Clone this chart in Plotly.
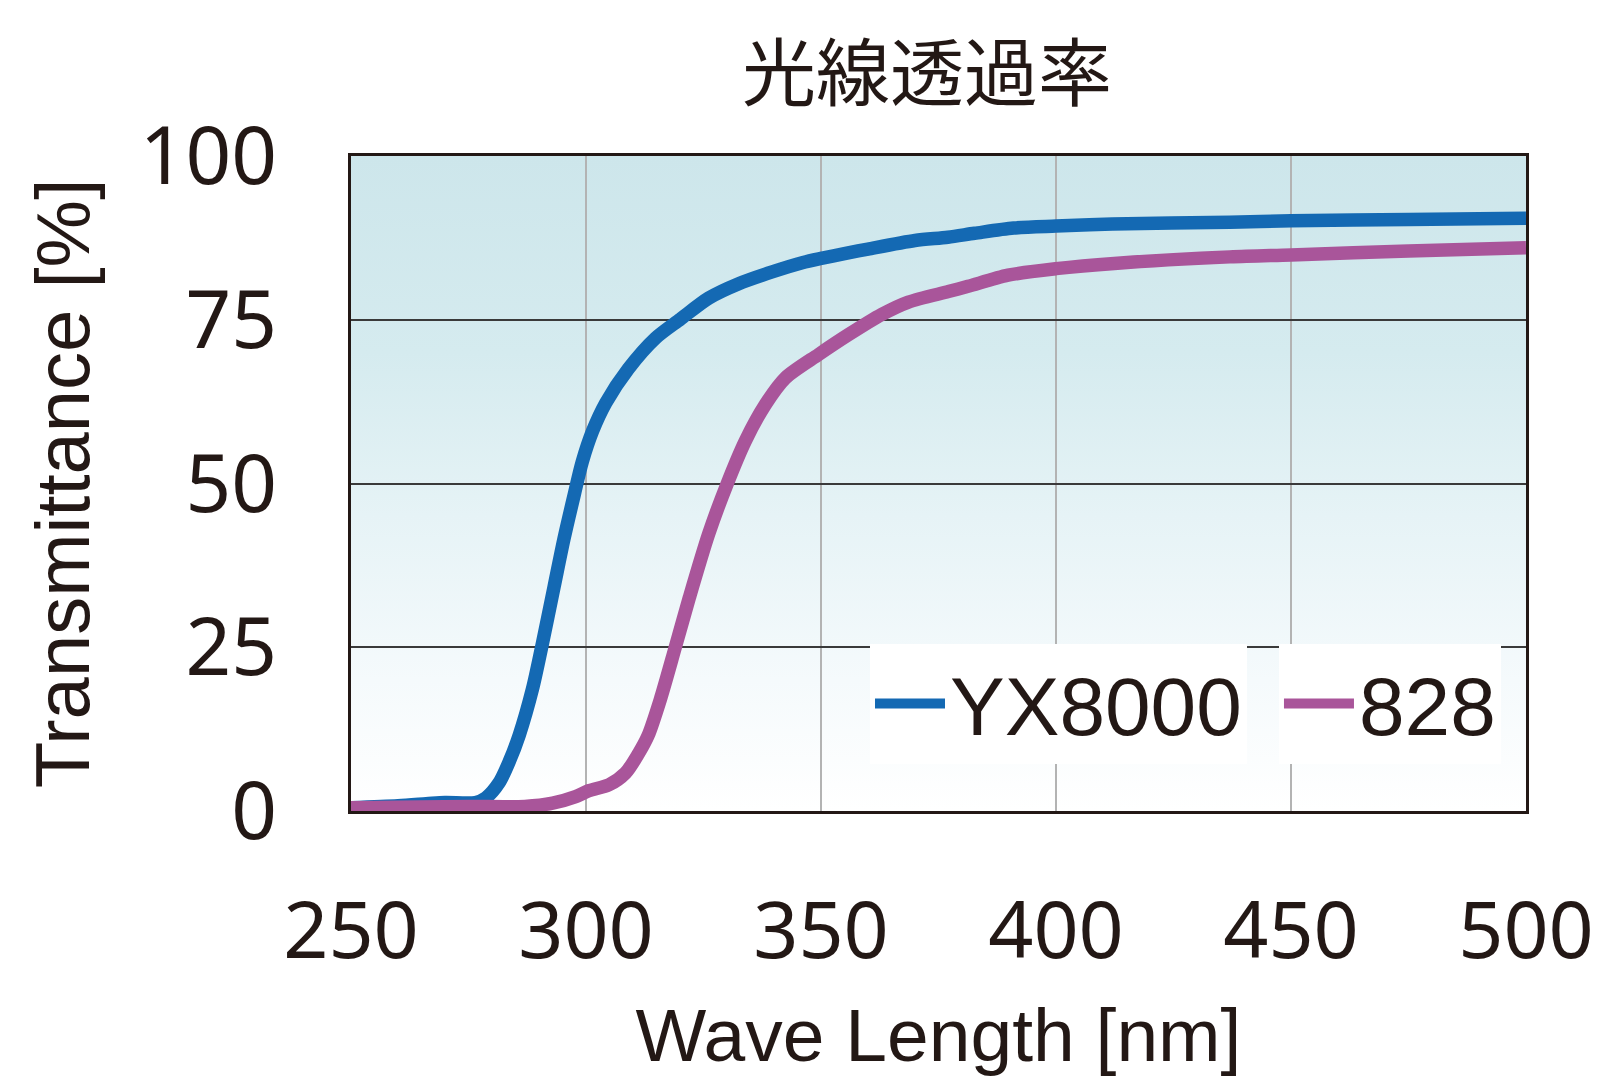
import base64
import plotly.graph_objects as go

# ---- data ----
wl_yx8000 = [250, 260, 266, 270, 276.5, 278.7, 281.5, 283.7, 285.8, 288.6, 290.5, 293.2, 295.3,
             297.5, 299.2, 301.4, 304.2, 309, 314.8, 320.1, 326.1, 332.5, 339.6, 346, 350.3,
             355, 360, 370, 377, 382.7, 391, 400, 412, 437, 450, 475, 500]
tr_yx8000 = [0.5, 0.8, 1.1, 1.3, 1.3, 2.0, 4.3, 7.6, 11.6, 18.6, 24.8, 34.2, 41.5,
             48.3, 53.3, 58.0, 62.3, 67.5, 72.2, 75.1, 78.3, 80.5, 82.3, 83.7, 84.4,
             85.1, 85.8, 87.1, 87.6, 88.2, 89.0, 89.3, 89.6, 89.9, 90.1, 90.3, 90.5]

wl_828 = [250, 265, 275, 287, 292.9, 297.8, 300.6, 304.9, 308.4, 311.2, 313.2, 315.8, 319, 322,
          326.1, 330, 333.9, 338.2, 342.4, 349.5, 355.8, 362.9, 368.6, 377.1, 381.3, 389.8,
          400, 412.4, 437, 450, 475, 500]
tr_828 = [0.5, 0.6, 0.7, 0.7, 1.2, 2.2, 3.1, 4.0, 5.8, 8.8, 11.5, 17.0, 25.0, 32.6,
          42.3, 49.9, 56.5, 62.1, 66.1, 69.7, 72.7, 75.8, 77.7, 79.3, 80.1, 81.8,
          82.8, 83.6, 84.6, 84.9, 85.5, 86.0]

series_names = ["YX8000", "828"]
series_colors = ["#1469b3", "#a9559a"]
x_ticks = [250, 300, 350, 400, 450, 500]
y_ticks = [0, 25, 50, 75, 100]
x_range = [250, 500]
y_range = [0, 100]

title_text = "光線透過率"
x_title = "Wave Length [nm]"
y_title = "Transmittance [%]"

TEXT = "#231815"

fig = go.Figure()
for name, xs, ys, col, lg in [(series_names[0], wl_yx8000, tr_yx8000, series_colors[0], "legend"),
                              (series_names[1], wl_828, tr_828, series_colors[1], "legend2")]:
    fig.add_trace(go.Scatter(x=xs, y=ys, mode="lines", name=name, legend=lg,
                             line=dict(color=col, width=13.5, shape="spline", smoothing=0.8)))

# gradient background as an svg image below the grid
svg = ('<svg xmlns="http://www.w3.org/2000/svg" width="100" height="100" viewBox="0 0 100 100" '
       'preserveAspectRatio="none"><defs><linearGradient id="g" x1="0" y1="0" x2="0" y2="1">'
       '<stop offset="0" stop-color="#cde6eb"/><stop offset="0.3" stop-color="#d5ebef"/>'
       '<stop offset="0.55" stop-color="#e6f3f6"/><stop offset="0.8" stop-color="#f5fafc"/>'
       '<stop offset="1" stop-color="#ffffff"/></linearGradient></defs>'
       '<rect x="0" y="0" width="100" height="100" fill="url(#g)"/></svg>')
src = "data:image/svg+xml;base64," + base64.b64encode(svg.encode()).decode()
fig.add_layout_image(dict(source=src, xref="x", yref="y", x=x_range[0], y=y_range[1],
                          sizex=x_range[1] - x_range[0], sizey=y_range[1] - y_range[0],
                          xanchor="left", yanchor="top", sizing="stretch", layer="below"))

legend_font = dict(size=82, color=TEXT, family="Liberation Sans, Arial, sans-serif")
fig.update_layout(
    width=1605, height=1077,
    margin=dict(l=351, r=79, t=156, b=266),
    paper_bgcolor="white", plot_bgcolor="rgba(0,0,0,0)",
    font=dict(family="Liberation Sans, Arial, sans-serif", color=TEXT),
    title=dict(text=title_text, x=0.5776, xanchor="center", xref="container",
               y=1 - 74 / 1077, yanchor="middle", yref="container",
               font=dict(family="Noto Sans CJK JP", size=74, color=TEXT)),
    showlegend=True,
    legend=dict(orientation="h", x=0.4417, xanchor="left", y=0.164, yanchor="middle",
                bgcolor="white", font=legend_font, itemwidth=70, borderwidth=0),
    legend2=dict(orientation="h", x=0.9787, xanchor="right", y=0.164, yanchor="middle",
                 bgcolor="white", font=legend_font, itemwidth=70, borderwidth=0),
)
fig.update_xaxes(range=x_range, tickvals=x_ticks, showgrid=True, gridcolor="#b3b3b3", gridwidth=2,
                 showline=True, mirror=True, linecolor=TEXT, linewidth=3, ticks="",
                 ticklabelstandoff=49, zeroline=False, automargin=False,
                 tickfont=dict(family="Noto Sans", size=79, color=TEXT),
                 title=dict(text=x_title, font=dict(size=75, color=TEXT), standoff=85))
fig.update_yaxes(range=y_range, tickvals=y_ticks, showgrid=True, gridcolor="#3a3a3a", gridwidth=2,
                 showline=True, mirror=True, linecolor=TEXT, linewidth=3, ticks="",
                 ticklabelstandoff=55, zeroline=False, automargin=False,
                 tickfont=dict(family="Noto Sans", size=80, color=TEXT),
                 title=dict(text=y_title, font=dict(size=76, color=TEXT), standoff=26))

fig.write_html("out.html")
